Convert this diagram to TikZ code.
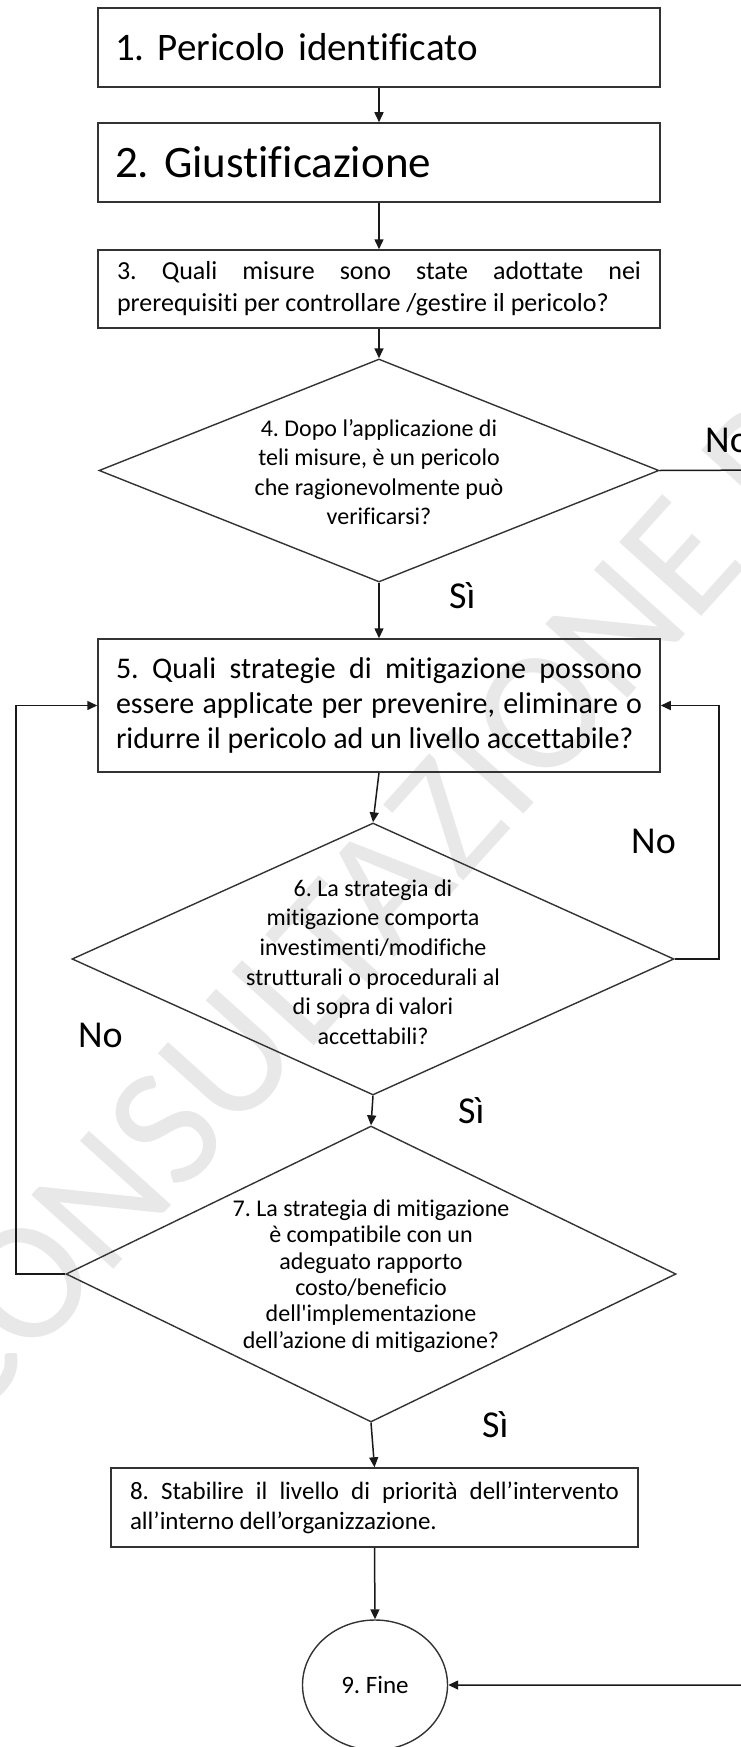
\documentclass[tikz,border=0pt]{standalone}
\usepackage{fontspec}
\setmainfont{Carlito}[Ligatures={TeX,NoCommon}]
\usetikzlibrary{arrows.meta,shapes.geometric}
\frenchspacing
\tikzset{
  boxnode/.style={draw=black!80, line width=1.5pt, inner sep=0pt},
  conn/.style={draw=black!90, line width=1.5pt, -{Triangle[length=10pt,width=9pt]}},
  dia/.style={draw=black!80, line width=1.4pt, shape=diamond, inner sep=0pt},
  diatext/.style={align=center, inner sep=0pt},
  lbl/.style={anchor=base west, inner sep=0pt, font=\fontsize{38}{42}\selectfont},
}
\begin{document}
\begin{tikzpicture}[x=1pt,y=-1pt]
\useasboundingbox (0,0) rectangle (741,1747);
\clip (0,0) rectangle (741,1747);
\fill[white] (0,0) rectangle (741,1747);
% watermark
\node[anchor=base west, rotate=48, text=black!9, inner sep=0pt,
      font=\fontsize{172}{180}\selectfont] (wm) at (-31,1430) {CONSULTAZIONE PUBBLICA};

% boxes
\node[boxnode, minimum width=562pt, minimum height=79pt, text width=528pt, align=left,
      font=\fontsize{39}{44}\selectfont] (b1) at (379,47.5) {1. Pericolo identificato};
\node[boxnode, minimum width=562pt, minimum height=79pt, text width=528pt, align=left,
      font=\fontsize{45}{50}\selectfont] (b2) at (379,162.5) {2. Giustificazione};
\node[boxnode, minimum width=562pt, minimum height=78pt, text width=524pt, align=justify,
      font=\fontsize{26}{32}\selectfont] (b3) at (379,289)
      {3. Quali misure sono state adottate nei\linebreak prerequisiti per controllare /gestire il pericolo?};
\node[boxnode, minimum width=562pt, minimum height=133pt, text width=526pt, align=justify,
      font=\fontsize{30}{35}\selectfont] (b5) at (379,705.5)
      {5. Quali strategie di mitigazione possono\linebreak essere applicate per prevenire, eliminare o\linebreak ridurre il pericolo ad un livello accettabile?};
\node[boxnode, minimum width=527pt, minimum height=79pt, text width=489pt, align=justify,
      font=\fontsize{25}{30}\selectfont] (b8) at (374.5,1507.5)
      {8. Stabilire il livello di priorità dell’intervento\linebreak all’interno dell’organizzazione.};

% diamonds
\node[dia, minimum width=560pt, minimum height=223pt] (d4) at (379,470.5) {};
\node[diatext, font=\fontsize{24}{29.5}\selectfont] (t4) at (379,472)
      {4. Dopo l’applicazione di\\teli misure, è un pericolo\\che ragionevolmente può\\verificarsi?};
\node[dia, minimum width=602pt, minimum height=272pt] (d6) at (373,959) {};
\node[diatext, font=\fontsize{24}{29.6}\selectfont] (t6) at (373,962)
      {6. La strategia di\\mitigazione comporta\\investimenti/modifiche\\strutturali o procedurali al\\di sopra di valori\\accettabili?};
\node[dia, minimum width=610pt, minimum height=296pt] (d7) at (371,1274) {};
\node[diatext, font=\fontsize{24}{26.4}\selectfont] (t7) at (371,1276)
      {7. La strategia di mitigazione\\è compatibile con un\\adeguato rapporto\\costo/beneficio\\dell\textquotesingle implementazione\\dell’azione di mitigazione?};

% end
\node[draw=black!80, line width=1.4pt, shape=ellipse, minimum width=145pt, minimum height=130pt,
      inner sep=0pt, font=\fontsize{25}{30}\selectfont] (c9) at (375,1685) {9. Fine};

% loop coordinates
\coordinate (rx) at (719,959);
\coordinate (lx) at (16,1274);
\coordinate (ex) at (780,470);

% connectors
\draw[conn] (b1.south) -- (b2.north);
\draw[conn] (b2.south) -- (b3.north);
\draw[conn] (b3.south) -- (d4.north);
\draw[conn] (d4.south) -- (b5.north);
\draw[conn] (b5.south) -- (d6.north);
\draw[conn] (d6.south) -- (d7.north);
\draw[conn] (d7.south) -- (b8.north);
\draw[conn] (b8.south) -- (c9.north);
\draw[conn] (d4.east) -- (ex) |- (c9.east);
\draw[conn] (d6.east) -- (rx) |- (b5.east);
\draw[conn] (d7.west) -- (lx) |- (b5.west);

% labels
\node[lbl] (no1) at (705,452) {No};
\node[lbl] (si1) at (449,608) {Sì};
\node[lbl] (no2) at (631,853) {No};
\node[lbl] (no3) at (78,1047) {No};
\node[lbl] (si2) at (458,1123) {Sì};
\node[lbl] (si3) at (482,1437) {Sì};
\end{tikzpicture}
\end{document}
